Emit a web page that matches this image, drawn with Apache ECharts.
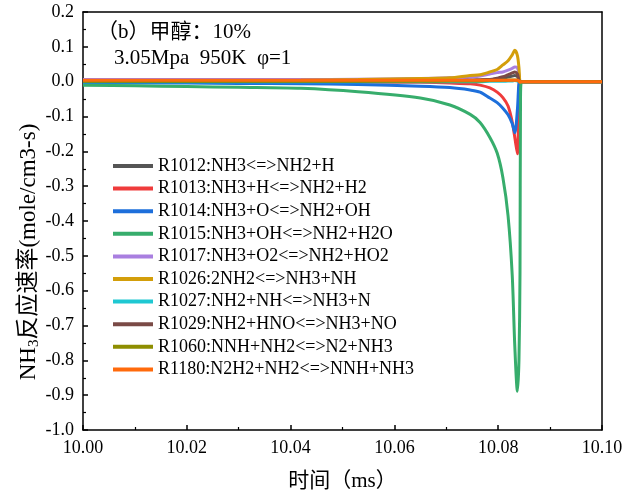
<!DOCTYPE html>
<html><head><meta charset="utf-8">
<script src="https://cdn.jsdelivr.net/npm/echarts@6/dist/echarts.min.js"></script>
<style>html,body{margin:0;padding:0;background:#fff}#c{width:641px;height:497px}</style>
</head><body><div id="c"></div>
<script>
var times = [10.000, 10.010, 10.020, 10.030, 10.042, 10.053, 10.065, 10.0707, 10.0746, 10.0765, 10.0784, 10.0798, 10.0809, 10.0819, 10.0827, 10.0832, 10.0837, 10.0840, 10.0842, 10.0843, 10.0845, 10.086, 10.090, 10.100];
var seriesNames = ['R1012:NH3<=>NH2+H','R1013:NH3+H<=>NH2+H2','R1014:NH3+O<=>NH2+OH','R1015:NH3+OH<=>NH2+H2O','R1017:NH3+O2<=>NH2+HO2','R1026:2NH2<=>NH3+NH','R1027:NH2+NH<=>NH3+N','R1029:NH2+HNO<=>NH3+NO','R1060:NNH+NH2<=>N2+NH3','R1180:N2H2+NH2<=>NNH+NH3'];
var r1012 = [0.001,0.001,0.001,0.001,0.001,0.001,0.002,0.003,0.004,0.005,0.006,0.008,0.010,0.013,0.016,0.018,0.015,0.004,0.0,0,0,0,0,0];
var r1013 = [-0.001,-0.001,-0.001,-0.001,-0.001,-0.002,-0.002,-0.004,-0.006,-0.010,-0.018,-0.030,-0.046,-0.070,-0.115,-0.160,-0.207,-0.020,0.0,0,0,0,0,0];
var r1014 = [-0.004,-0.004,-0.004,-0.005,-0.006,-0.008,-0.013,-0.017,-0.024,-0.030,-0.047,-0.060,-0.076,-0.095,-0.120,-0.147,-0.080,-0.002,0.0,0,0,0,0,0];
var r1015 = [-0.010,-0.012,-0.014,-0.016,-0.019,-0.029,-0.047,-0.067,-0.094,-0.117,-0.160,-0.205,-0.275,-0.385,-0.555,-0.760,-0.889,-0.800,-0.550,-0.050,0.0,0,0,0];
var r1017 = [0.006,0.006,0.006,0.006,0.006,0.007,0.009,0.011,0.013,0.016,0.022,0.026,0.028,0.033,0.038,0.042,0.040,0.020,0.0,0,0,0,0,0];
var r1026 = [0.002,0.002,0.003,0.003,0.004,0.006,0.009,0.011,0.018,0.020,0.028,0.035,0.048,0.060,0.077,0.090,0.075,0.040,0.0,0,0,0,0,0];
var r1027 = [0.000,0.000,0.000,0.000,0.000,0.000,0.000,0.000,0.000,0.000,0.001,0.001,0.001,0.002,0.002,0.003,0.002,0.000,0.0,0,0,0,0,0];
var r1029 = [0.002,0.002,0.002,0.002,0.002,0.002,0.003,0.003,0.004,0.005,0.006,0.010,0.014,0.020,0.025,0.028,0.022,0.005,0.0,0,0,0,0,0];
var r1060 = [0.001,0.001,0.001,0.001,0.001,0.001,0.001,0.002,0.002,0.002,0.003,0.003,0.004,0.004,0.005,0.005,0.004,0.001,0.0,0,0,0,0,0];
var r1180 = [0.004,0.004,0.004,0.004,0.004,0.004,0.004,0.004,0.004,0.004,0.004,0.004,0.004,0.004,0.004,0.004,0.004,0.002,-0.002,0.0,0,0,0,0];
var yTicks = ['0.2','0.1','0.0','-0.1','-0.2','-0.3','-0.4','-0.5','-0.6','-0.7','-0.8','-0.9','-1.0'];
var xTicks = ['10.00','10.02','10.04','10.06','10.08','10.10'];
var colors = ['#555555','#ef3b3b','#1d6fdb','#37ad6c','#a97fe0','#d39e0a','#1fc8d2','#7a4a46','#8e8e00','#ff6a0c'];
var allValues = [r1012,r1013,r1014,r1015,r1017,r1026,r1027,r1029,r1060,r1180];

var serif = '"Liberation Serif","Times New Roman","Noto Sans CJK SC",serif';
var chart = echarts.init(document.getElementById('c'), null, {renderer:'canvas'});
var series = allValues.map(function(vals, i){
  return {
    name: seriesNames[i], type:'line', showSymbol:false, smooth:0.3,
    lineStyle:{width:3, color:colors[i]}, itemStyle:{color:colors[i]},
    data: times.map(function(t, j){ return [t, vals[j]]; }),
    z: 2 + i
  };
});
var axisLine = {show:true, onZero:false, lineStyle:{color:'#000', width:1.5}};
chart.setOption({
  animation:false,
  color: colors,
  grid:{left:83, right:39, top:12, bottom:66, show:false},
  legend:{
    orient:'vertical', left:108, top:152, icon:'rect', itemWidth:40, itemHeight:4, itemGap:4.6,
    textStyle:{fontFamily:serif, fontSize:18, color:'#000', lineHeight:18},
    data: seriesNames
  },
  graphic:[
    {type:'text', left:97, top:22, style:{text:'（b）甲醇：10%', font:'21px '+serif, fill:'#000'}},
    {type:'text', left:114, top:48, style:{text:'3.05Mpa  950K  φ=1', font:'21px '+serif, fill:'#000'}},
    {type:'text', x:29, y:252, rotation:Math.PI/2, style:{
      text:'{a|NH}{s|3}{a|反应速率(mole/cm3-s)}', align:'center', verticalAlign:'middle',
      rich:{
        a:{fontFamily:serif, fontSize:23, fill:'#000', color:'#000'},
        s:{fontFamily:serif, fontSize:15, fill:'#000', color:'#000', verticalAlign:'bottom', padding:[10,0,0,0]}
      }}}
  ],
  xAxis:[{
    type:'value', min:10.00, max:10.10, interval:0.02,
    name:'时间（ms）', nameLocation:'middle', nameGap:41,
    nameTextStyle:{fontFamily:serif, fontSize:21, color:'#000'},
    axisLine:axisLine,
    axisTick:{show:true, inside:true, length:5, lineStyle:{color:'#000', width:1.5}},
    minorTick:{show:true, splitNumber:2, length:3, lineStyle:{color:'#000', width:1.2}},
    splitLine:{show:false},
    axisLabel:{fontFamily:serif, fontSize:18, color:'#000', margin:9,
      formatter:function(v){ var i = Math.round((v-10)/0.02); return xTicks[i]; }}
  },{
    type:'value', position:'top', min:10.00, max:10.10, interval:0.02,
    axisLine:axisLine, axisTick:{show:false}, axisLabel:{show:false}, splitLine:{show:false}
  }],
  yAxis:[{
    type:'value', min:-1.0, max:0.2, interval:0.1,
    axisLine:axisLine,
    axisTick:{show:true, inside:true, length:5, lineStyle:{color:'#000', width:1.5}},
    minorTick:{show:true, splitNumber:2, length:3, lineStyle:{color:'#000', width:1.2}},
    splitLine:{show:false},
    axisLabel:{fontFamily:serif, fontSize:18, color:'#000', margin:9,
      formatter:function(v){ var i = Math.round((0.2 - v)/0.1); return yTicks[i]; }}
  },{
    type:'value', position:'right', min:-1.0, max:0.2, interval:0.1,
    axisLine:axisLine, axisTick:{show:false}, axisLabel:{show:false}, splitLine:{show:false}
  }],
  series: series
});
</script></body></html>
